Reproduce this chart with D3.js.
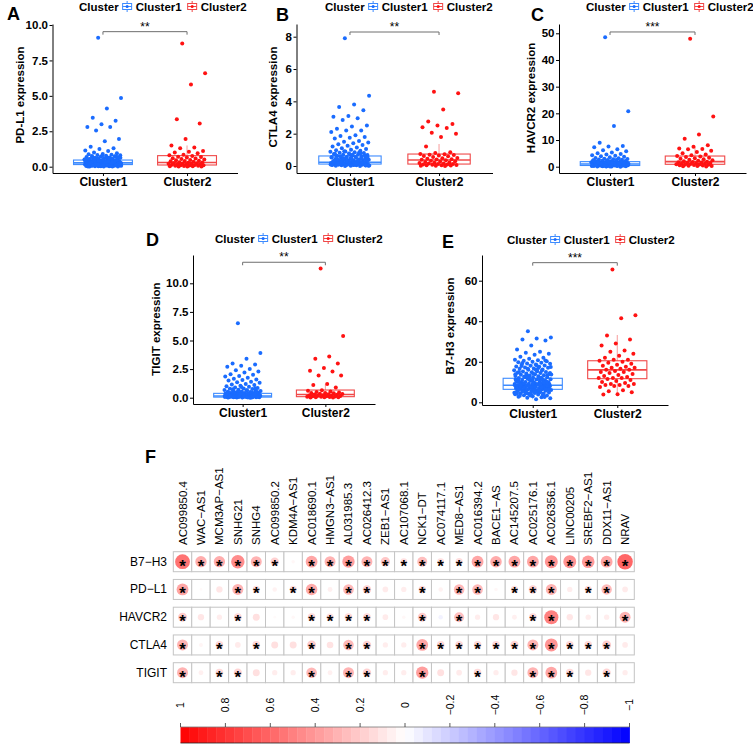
<!DOCTYPE html>
<html><head><meta charset="utf-8">
<script src="https://cdn.jsdelivr.net/npm/d3@7"></script>
<style>
body{margin:0;background:#fff}
svg text{font-family:"Liberation Sans",Arial,Helvetica,sans-serif}
</style>
</head><body>
<svg id="c" width="753" height="746"></svg>
<script>
// ---------------- DATA ----------------
const groups = ["Cluster1", "Cluster2"];

// PD-L1 (panel A)
const pdl1_c1 = [9.1,4.85,4.1,3.45,3.25,3.0,2.8,2.8,2.55,1.95,1.8,1.4,1.3,1.25,1.15,1.1,1.0,0.95,0.9,0.88,0.85,0.82,0.8,0.78,0.75,0.72,0.7,0.68,0.65,
  0.62,0.6,0.58,0.55,0.53,0.5,0.5,0.48,0.46,0.45,0.44,0.42,0.4,0.4,0.38,0.37,0.36,0.35,0.34,0.33,0.32,0.31,0.3,0.3,0.29,0.28,0.27,0.26,0.25,0.25,0.24,
  0.23,0.22,0.21,0.2,0.2,0.19,0.18,0.17,0.16,0.15,0.15,0.14,0.13,0.12,0.11,0.1,0.1,0.09,0.08,0.07,0.06,0.05,0.05,0.04,0.03,0.02,0.02,0.01,0.01,
  0.03,0.06,0.09,0.12,0.14,0.17,0.19,0.22,0.24,0.27,0.29,0.31,0.34,0.36,0.39,0.41,0.43,0.47,0.49,0.52,0.56,0.59,0.63,0.66,0.69,0.74,0.04,0.08,0.11,
  0.16,0.21,0.26,0.33,0.37,0.44,0.51,0.57,0.61,0.71,0.77,0.02,0.05,0.13,0.18,0.23,0.28,0.35,0.42,0.48,0.54,0.6,0.67,0.1,0.2,0.3,0.15,0.25,0.12,0.08];
const pdl1_c2 = [8.7,6.6,5.8,3.35,3.05,1.95,1.5,1.35,1.3,1.1,1.05,1.0,0.95,0.85,0.8,0.75,0.7,0.68,0.65,0.6,0.58,0.55,0.5,0.48,0.45,0.42,0.4,0.38,0.35,
  0.32,0.3,0.28,0.26,0.25,0.22,0.2,0.2,0.18,0.16,0.15,0.14,0.12,0.1,0.1,0.08,0.07,0.06,0.05,0.04,0.03,0.02,0.02,0.01];
const pdl1_box1 = [0, 0.15, 0.27, 0.47, 0.95];   // [low whisker, q1, median, q3, high whisker]
const pdl1_box2 = [0, 0.12, 0.30, 0.78, 1.5];
const pdl1_ticks = [0, 2.5, 5, 7.5, 10];

// CTLA4 (panel B)
const ctla4_c1 = [7.9,4.35,3.8,3.65,3.45,3.1,3.05,2.95,2.85,2.5,2.45,2.3,2.2,2.2,2.1,1.9,1.85,1.8,1.75,1.7,1.55,1.5,1.45,1.4,1.35,1.3,1.25,1.2,1.15,1.1,
  1.05,1.0,0.98,0.95,0.9,0.88,0.85,0.82,0.8,0.78,0.75,0.72,0.7,0.68,0.65,0.62,0.6,0.58,0.55,0.52,0.5,0.48,0.46,0.44,0.42,0.4,0.38,0.36,0.35,0.33,0.32,
  0.3,0.28,0.27,0.25,0.24,0.22,0.21,0.2,0.19,0.18,0.17,0.16,0.15,0.14,0.13,0.12,0.11,0.1,0.09,0.08,0.07,0.06,0.05,0.04,0.03,0.02,0.01,0.0,0.0,
  0.03,0.07,0.11,0.15,0.19,0.23,0.26,0.31,0.34,0.37,0.41,0.45,0.49,0.53,0.57,0.61,0.66,0.71,0.76,0.83,0.92,0.02,0.06,0.1,0.14,0.18,0.22,0.29,0.36,
  0.43,0.51,0.64,0.79,0.05,0.09,0.13,0.17,0.21,0.26,0.33,0.39,0.47,0.56,0.69,0.12,0.2,0.28,0.08,0.16,0.24,0.04];
const ctla4_c2 = [4.6,4.5,3.5,2.75,2.6,2.5,2.4,2.35,2.05,2.0,1.8,1.2,0.85,0.8,0.75,0.72,0.7,0.68,0.65,0.62,0.6,0.55,0.5,0.48,0.45,0.42,0.4,0.38,0.35,
  0.33,0.3,0.28,0.25,0.22,0.2,0.18,0.16,0.15,0.13,0.12,0.1,0.09,0.08,0.06,0.05,0.04,0.03,0.02,0.01,0.0];
const ctla4_box1 = [0, 0.12, 0.23, 0.62, 1.3];
const ctla4_box2 = [0, 0.12, 0.37, 0.74, 1.36];
const ctla4_ticks = [0, 2, 4, 6, 8];

// HAVCR2 (panel C)
const havcr2_c1 = [48.5,20.8,15.3,9.0,7.8,7.6,7.3,6.5,6.2,5.8,5.3,5.0,4.8,4.6,4.3,4.1,3.9,3.7,3.5,3.3,3.2,3.0,2.9,2.8,2.7,2.6,2.5,2.4,2.3,2.2,2.1,2.0,
  1.9,1.85,1.8,1.7,1.6,1.55,1.5,1.4,1.35,1.3,1.25,1.2,1.15,1.1,1.05,1.0,0.95,0.9,0.85,0.8,0.75,0.7,0.65,0.6,0.55,0.5,0.45,0.4,0.35,0.3,0.25,0.2,0.15,0.1,0.05,0.0,
  0.12,0.28,0.42,0.58,0.72,0.88,1.02,1.18,1.32,1.48,1.62,1.78,1.92,2.15,2.35,2.55,0.22,0.38,0.52,0.68,0.82,0.98,1.12,1.28,1.45,1.65,1.88,2.05,0.32,0.62,
  0.92,1.22,1.52,1.82,0.18,0.48,0.78,1.08,1.38,0.08,0.6,1.1,0.4,0.9];
const havcr2_c2 = [48,18.8,12.1,10.5,8.0,7.5,6.8,6.6,6.5,6.0,5.5,5.0,4.6,4.3,4.0,3.8,3.6,3.4,3.2,3.0,2.8,2.6,2.4,2.2,2.0,1.9,1.8,1.7,1.6,1.5,1.4,1.3,
  1.2,1.1,1.0,0.9,0.85,0.8,0.7,0.6,0.5,0.45,0.4,0.3,0.25,0.2,0.1];
const havcr2_box1 = [0, 0.45, 1.0, 1.9, 4.0];
const havcr2_box2 = [0, 0.9, 1.9, 4.0, 7.5];
const havcr2_ticks = [0, 10, 20, 30, 40, 50];

// TIGIT (panel D)
const tigit_c1 = [6.5,3.9,3.4,3.0,2.9,2.8,2.7,2.5,2.4,2.3,2.2,2.05,2.0,1.9,1.85,1.75,1.65,1.6,1.55,1.5,1.4,1.35,1.3,1.2,1.15,1.1,1.05,1.0,0.95,0.9,
  0.85,0.8,0.78,0.75,0.7,0.68,0.65,0.62,0.6,0.55,0.52,0.5,0.48,0.45,0.42,0.4,0.38,0.35,0.33,0.3,0.28,0.26,0.25,0.23,0.22,0.2,0.19,0.18,0.17,0.16,
  0.15,0.14,0.13,0.12,0.11,0.1,0.09,0.08,0.07,0.06,0.05,0.04,0.03,0.02,0.01,0.0,
  0.02,0.05,0.08,0.11,0.14,0.17,0.21,0.24,0.27,0.31,0.36,0.41,0.46,0.53,0.58,0.66,0.73,0.82,0.93,0.03,0.06,0.09,0.13,0.16,0.2,0.24,0.29,0.34,0.39,
  0.44,0.51,0.04,0.07,0.1,0.12,0.15,0.19,0.22,0.28,0.32,0.37,0.02,0.06,0.09,0.14,0.18,0.05,0.1,0.15,0.03,0.08];
const tigit_c2 = [11.3,5.4,3.6,3.4,3.0,2.6,2.35,2.3,1.95,1.95,1.2,1.1,0.9,0.65,0.6,0.55,0.5,0.45,0.42,0.4,0.38,0.35,0.32,0.3,0.28,0.25,0.22,0.2,
  0.18,0.16,0.15,0.13,0.12,0.1,0.09,0.08,0.06,0.05,0.04,0.03,0.02,0.01];
const tigit_box1 = [0, 0.05, 0.15, 0.38, 0.85];
const tigit_box2 = [0, 0.09, 0.28, 0.67, 1.17];
const tigit_ticks = [0, 2.5, 5, 7.5, 10];

// B7-H3 (panel E)
const b7h3_c1 = [35,32,31.5,31,30.5,28,26,25,24.5,24,23.5,22.5,22,21.5,21,20.8,20.5,20.2,20,19.7,19.5,19.2,19,18.7,18.5,18.2,18,17.7,17.5,17.2,
  17,16.7,16.5,16.2,16,15.8,15.5,15.2,15,14.8,14.6,14.4,14.2,14,13.8,13.6,13.4,13.2,13,12.8,12.6,12.4,12.2,12,11.8,11.6,11.4,11.2,11,10.8,10.6,
  10.4,10.2,10,9.9,9.7,9.5,9.3,9.1,9,8.9,8.7,8.5,8.3,8.2,8.1,8,7.9,7.7,7.5,7.4,7.3,7.1,7,6.9,6.8,6.6,6.5,6.4,6.3,6.1,6,5.9,5.7,5.5,5.4,5.2,5,4.8,
  4.6,4.5,4.3,4.1,4,3.8,3.5,3.3,3,2.8,2.5,2.2,2,1.5,9.4,8.6,7.8,10.5,11.5,12.5,6.7,5.6,
  3.2,3.6,4.2,4.7,5.1,5.8,6.2,6.8,7.2,7.6,8.4,8.8,9.2,9.6,10.3,10.9,11.3,11.9,12.7,13.3,14.1,14.9,15.7,16.6,17.4,18.3,19.4,20.6,3.9,4.4,4.9,5.3,
  6.05,6.55,7.05,7.45,7.95,8.45,8.95,9.45,10.1,10.7,11.1,12.1,13.1,14.5,16.1,17.9,2.6,3.4,5.0,6.0,7.0,8.0,9.0,10.0,11.0,12.3,13.7,15.3,5.5,6.5,7.5,
  8.5,9.5,4.5,6.3,7.7,8.7,9.8,11.6,13.9,16.9,7.2,8.2,9.3,6.2,7.4];
const b7h3_c2 = [65.5,43,41.5,33,31,29,28,25.5,25,24,23,22,21,21,20.5,20,19.5,19,18.5,18,17.5,17,17,16.5,16,16,15.5,15,15,14.5,14,13.5,13,12.5,
  12,12,12,11.5,11,10.5,10,9.5,9,9,8.5,8.5,8,8,7.5,6,5.5,5,4,3.8];
const b7h3_box1 = [1.5, 6.4, 8.4, 11.85, 19.5];
const b7h3_box2 = [3.8, 11.65, 16.0, 20.5, 33.2];
const b7h3_ticks = [0, 20, 40, 60];

const bracketValues = [9.53, 8.29, 50.5, 11.84, 68.9];
const bracketLabels = ["**", "**", "***", "**", "***"];

// Heatmap (panel F)
const hmCols = ["AC099850.4","WAC\u2212AS1","MCM3AP\u2212AS1","SNHG21","SNHG4","AC099850.2","KDM4A\u2212AS1","AC018690.1","HMGN3\u2212AS1",
  "AL031985.3","AC026412.3","ZEB1\u2212AS1","AC107068.1","NCK1\u2212DT","AC074117.1","MED8\u2212AS1","AC016394.2","BACE1\u2212AS","AC145207.5",
  "AC025176.1","AC026356.1","LINC00205","SREBF2\u2212AS1","DDX11\u2212AS1","NRAV"];
const hmRows = ["B7\u2212H3","PD\u2212L1","HAVCR2","CTLA4","TIGIT"];
const corrB7H3  = [0.55,0.32,0.32,0.45,0.30,0.18,0.03,0.35,0.30,0.38,0.30,0.22,0.12,0.25,0.12,0.13,0.35,0.33,0.35,0.35,0.42,0.42,0.40,0.35,0.60];
const corrPDL1  = [0.35,0.02,0.10,0.30,0.13,0.05,0.13,0.33,0.06,0.28,0.18,0.08,0.07,0.14,0.05,0.28,0.28,0.03,0.13,0.18,0.30,0.07,0.13,0.27,0.08];
const corrHAVCR2= [0.20,0.10,0.07,0.15,0.12,0.02,0.03,0.15,0.13,0.15,0.15,0.08,0.03,0.20,-0.05,0.25,0.07,0.10,0.06,0.15,0.50,0.10,0.07,0.07,0.30];
const corrCTLA4 = [0.30,0.04,0.15,0.08,0.15,0.12,0.12,0.20,0.11,0.28,0.18,0.07,0.07,0.35,0.15,0.15,0.15,0.15,0.17,0.30,0.42,0.15,0.15,0.20,0.08];
const corrTIGIT = [0.30,0.06,0.15,0.17,0.12,0.07,0.07,0.28,0.06,0.30,0.18,0.07,0.07,0.38,0.12,0.08,0.15,0.07,0.10,0.30,0.35,0.15,0.10,0.17,0.07];
const sigB7H3   = [1,1,1,1,1,1,0,1,1,1,1,1,1,1,1,1,1,1,1,1,1,1,1,1,1];
const sigPDL1   = [1,0,0,1,1,0,1,1,0,1,1,0,0,1,0,1,1,0,1,1,1,0,1,1,0];
const sigHAVCR2 = [1,0,0,1,0,0,0,1,1,1,1,0,0,1,0,1,0,0,0,1,1,0,0,0,1];
const sigCTLA4  = [1,0,1,0,1,0,0,1,0,1,1,0,0,1,1,1,1,1,1,1,1,1,1,1,0];
const sigTIGIT  = [1,0,1,1,0,0,0,1,0,1,1,0,0,1,0,0,1,0,0,1,1,1,0,1,0];
const colorbarTicks = [1,0.8,0.6,0.4,0.2,0,-0.2,-0.4,-0.6,-0.8,-1];

// ---------------- DRAWING ----------------
const svg = d3.select("#c");
svg.append("rect").attr("width",753).attr("height",746).attr("fill","#fff");
const pal = {
  Cluster1: {pt:"#1a6cff", box:"#3d8bff"},
  Cluster2: {pt:"#ff1212", box:"#f04848"}
};
const jit = i => ((i * 0.6180339887 + 0.37) % 1) - 0.5;   // deterministic jitter offset

const panels = [
  {lab:"A", lx:7,  ly:20,  title:"PD-L1 expression", tx:23.5, ty:95, c1:pdl1_c1, c2:pdl1_c2, b1:pdl1_box1, b2:pdl1_box2, ticks:pdl1_ticks, fmt:".1f",
   L:52.5, R:237.5, T:24, B:173, zero:166.7, tickPx:25, tickV:10, legX:79, legY:11},
  {lab:"B", lx:276, ly:21, title:"CTLA4 expression", tx:276.5, ty:97, c1:ctla4_c1, c2:ctla4_c2, b1:ctla4_box1, b2:ctla4_box2, ticks:ctla4_ticks, fmt:"d",
   L:296.5, R:492.5, T:24, B:173, zero:166, tickPx:36.7, tickV:8, legX:325, legY:11},
  {lab:"C", lx:531, ly:21, title:"HAVCR2 expression", tx:535, ty:98, c1:havcr2_c1, c2:havcr2_c2, b1:havcr2_box1, b2:havcr2_box2, ticks:havcr2_ticks, fmt:"d",
   L:559, R:746, T:24, B:173, zero:166.7, tickPx:33.3, tickV:50, legX:586, legY:11},
  {lab:"D", lx:146, ly:246, title:"TIGIT expression", tx:160, ty:329, c1:tigit_c1, c2:tigit_c2, b1:tigit_box1, b2:tigit_box2, ticks:tigit_ticks, fmt:".1f",
   L:193, R:375, T:255, B:404, zero:397.7, tickPx:283.3, tickV:10, legX:215, legY:243},
  {lab:"E", lx:442, ly:248, title:"B7-H3 expression", tx:453.5, ty:326, c1:b7h3_c1, c2:b7h3_c2, b1:b7h3_box1, b2:b7h3_box2, ticks:b7h3_ticks, fmt:"d",
   L:482, R:668, T:255, B:405, zero:402.3, tickPx:280.7, tickV:60, legX:507, legY:244}
];

panels.forEach((p, pi) => {
  const g = svg.append("g");
  const x = d3.scalePoint().domain(groups).range([p.L, p.R]).padding(0.6);
  const pxPerUnit = (p.zero - p.tickPx) / p.tickV;
  const y = d3.scaleLinear().domain([(p.zero - p.B) / pxPerUnit, (p.zero - p.T) / pxPerUnit]).range([p.B, p.T]);
  const step = x.step(), bw = 0.7 * step;

  const sets = [{grp:"Cluster1", vals:p.c1, box:p.b1}, {grp:"Cluster2", vals:p.c2, box:p.b2}];
  sets.forEach(s => {
    const cx = x(s.grp), col = pal[s.grp];
    const gg = g.append("g");
    gg.append("line").attr("x1",cx).attr("x2",cx).attr("y1",y(s.box[3])).attr("y2",y(s.box[4]))
      .attr("stroke",col.box).attr("stroke-opacity",0.55).attr("stroke-width",1);
    gg.append("line").attr("x1",cx).attr("x2",cx).attr("y1",y(s.box[0])).attr("y2",y(s.box[1]))
      .attr("stroke",col.box).attr("stroke-opacity",0.55).attr("stroke-width",1);
    gg.append("rect").attr("x",cx-bw/2).attr("width",bw).attr("y",y(s.box[3])).attr("height",y(s.box[1])-y(s.box[3]))
      .attr("fill","#fff").attr("stroke",col.box).attr("stroke-width",1.1);
    gg.append("line").attr("x1",cx-bw/2).attr("x2",cx+bw/2).attr("y1",y(s.box[2])).attr("y2",y(s.box[2]))
      .attr("stroke",col.box).attr("stroke-width",1.6);
    gg.selectAll("circle").data(s.vals).join("circle")
      .attr("cx",(d,i)=>cx + jit(i) * 2 * 0.22 * step)
      .attr("cy",d=>y(d)).attr("r",2).attr("fill",col.pt);
  });

  const ya = g.append("g").attr("transform",`translate(${p.L},0)`)
    .call(d3.axisLeft(y).tickValues(p.ticks).tickFormat(d3.format(p.fmt)).tickSize(3).tickSizeOuter(0).tickPadding(1.5));
  const xa = g.append("g").attr("transform",`translate(0,${p.B})`)
    .call(d3.axisBottom(x).tickSize(3).tickSizeOuter(0).tickPadding(1.5));
  [ya, xa].forEach(a => {
    a.select(".domain").attr("stroke","#000").attr("stroke-width",1);
    a.selectAll(".tick line").attr("stroke","#000");
    a.selectAll(".tick text").attr("fill","#000").style("font-weight","bold");
  });
  ya.selectAll(".tick text").style("font-size","11.5px");
  xa.selectAll(".tick text").style("font-size","12px");

  g.append("text").attr("transform",`translate(${p.tx},${p.ty}) rotate(-90)`).attr("text-anchor","middle")
    .style("font-size","11.5px").style("font-weight","bold").attr("fill","#000").text(p.title);

  const by = y(bracketValues[pi]), x1 = x("Cluster1"), x2 = x("Cluster2");
  g.append("path").attr("d",`M${x1},${by+3}V${by}H${x2}V${by+3}`).attr("fill","none").attr("stroke","#6e6e6e").attr("stroke-width",1);
  g.append("text").attr("x",(x1+x2)/2).attr("y",by-1).attr("text-anchor","middle").style("font-size","12px").attr("fill","#000")
    .text(bracketLabels[pi]);

  svg.append("text").attr("x",p.lx).attr("y",p.ly).style("font-size","18px").style("font-weight","bold").text(p.lab);

  const lg = svg.append("g").attr("transform",`translate(${p.legX},${p.legY})`);
  const t0 = lg.append("text").attr("x",0).attr("y",0).style("font-size","11.5px").style("font-weight","bold").text("Cluster");
  let cur = t0.node().getComputedTextLength() + 4;
  groups.forEach(gname => {
    const col = pal[gname];
    const k = lg.append("g").attr("transform",`translate(${cur},0)`);
    k.append("line").attr("x1",4.5).attr("x2",4.5).attr("y1",-10).attr("y2",1).attr("stroke",col.box).attr("stroke-width",1);
    k.append("rect").attr("x",0).attr("y",-7.5).attr("width",9).attr("height",6).attr("fill","#fff").attr("stroke",col.box).attr("stroke-width",1);
    k.append("line").attr("x1",0).attr("x2",9).attr("y1",-4.5).attr("y2",-4.5).attr("stroke",col.box).attr("stroke-width",1);
    k.append("circle").attr("cx",4.5).attr("cy",-4.5).attr("r",1.5).attr("fill",col.pt);
    cur += 13;
    const t = lg.append("text").attr("x",cur).attr("y",0).style("font-size","11.5px").style("font-weight","bold").text(gname);
    cur += t.node().getComputedTextLength() + 6;
  });
});

// ---------------- HEATMAP (F) ----------------
svg.append("text").attr("x",145).attr("y",463).style("font-size","18px").style("font-weight","bold").text("F");

const corrRows = [corrB7H3, corrPDL1, corrHAVCR2, corrCTLA4, corrTIGIT];
const sigRows = [sigB7H3, sigPDL1, sigHAVCR2, sigCTLA4, sigTIGIT];
const hx = d3.scaleBand().domain(hmCols).range([173.3, 634.3]);
const hy = d3.scalePoint().domain(hmRows).range([561.7, 672.7]);
const cw = hx.bandwidth(), ch = 20;
const colorScale = d3.scaleLinear().domain([-1,0,1]).range(["#0000ff","#ffffff","#ff0000"]);
const rScale = v => Math.sqrt(Math.abs(v)) * 10;

const hm = svg.append("g");
hmRows.forEach((rn, ri) => {
  const cy = hy(rn);
  const rg = hm.append("g");
  const cells = hmCols.map((c, ci) => ({c, v: corrRows[ri][ci], s: sigRows[ri][ci]}));
  rg.selectAll("rect").data(cells).join("rect")
    .attr("x",d=>hx(d.c)).attr("y",cy-ch/2).attr("width",cw).attr("height",ch)
    .attr("fill","#fff").attr("stroke","#c4c4c4").attr("stroke-width",1);
  rg.selectAll("circle").data(cells).join("circle")
    .attr("cx",d=>hx(d.c)+cw/2).attr("cy",cy).attr("r",d=>rScale(d.v)).attr("fill",d=>colorScale(d.v));
  rg.selectAll("text.star").data(cells.filter(d=>d.s)).join("text").attr("class","star")
    .attr("x",d=>hx(d.c)+cw/2).attr("y",cy + 0.58*17).attr("text-anchor","middle")
    .style("font-size","17px").style("font-weight","bold").attr("fill","#000").text("*");
  hm.append("text").attr("x",167).attr("y",cy+4).attr("text-anchor","end").style("font-size","12px").attr("fill","#000").text(rn);
});
hm.selectAll("text.col").data(hmCols).join("text").attr("class","col")
  .attr("transform",d=>`translate(${hx(d)+cw/2+4},545) rotate(-90)`)
  .attr("text-anchor","start").style("font-size","11.5px").attr("fill","#000").text(d=>d);

// colorbar
const cbx = d3.scaleLinear().domain([1,-1]).range([180.5, 629.5]);
const nSteps = 50, cbTop = 727, cbH = 16;
const cb = svg.append("g");
cb.selectAll("rect").data(d3.range(nSteps)).join("rect")
  .attr("x",i=>cbx(1 - 2*i/nSteps)).attr("width",(cbx.range()[1]-cbx.range()[0])/nSteps + 0.4)
  .attr("y",cbTop).attr("height",cbH)
  .attr("fill",i=>colorScale(1 - 2*(i+0.5)/nSteps));
cb.append("line").attr("x1",cbx(1)).attr("x2",cbx(-1)).attr("y1",cbTop).attr("y2",cbTop).attr("stroke","#777").attr("stroke-width",0.8);
cb.append("line").attr("x1",cbx(1)).attr("x2",cbx(-1)).attr("y1",cbTop+cbH).attr("y2",cbTop+cbH).attr("stroke","#222").attr("stroke-width",0.8);
cb.selectAll("line.tk").data(colorbarTicks).join("line").attr("class","tk")
  .attr("x1",d=>cbx(d)).attr("x2",d=>cbx(d)).attr("y1",cbTop-4).attr("y2",cbTop).attr("stroke","#333").attr("stroke-width",0.8);
const fmtCb = d3.format("~g");
cb.selectAll("text").data(colorbarTicks).join("text")
  .attr("transform",d=>`translate(${cbx(d)+3.8},705) rotate(-90)`).attr("text-anchor","middle")
  .style("font-size","10.5px").attr("fill","#000").text(d=>fmtCb(d));
</script>
</body></html>
